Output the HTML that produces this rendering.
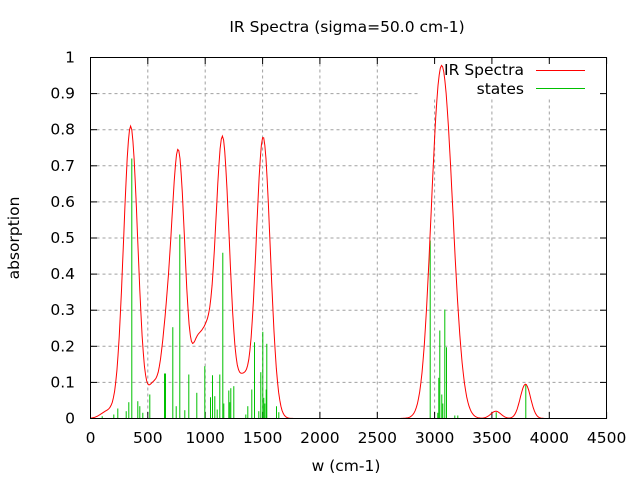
<!DOCTYPE html>
<html><head><meta charset="utf-8"><style>
html,body{margin:0;padding:0;background:#fff}
svg{display:block}
text{font-family:"DejaVu Sans","Liberation Sans",sans-serif;font-size:15.5px;fill:#000}
</style></head><body>
<svg id="s" width="640" height="480" viewBox="0 0 640 480" xmlns="http://www.w3.org/2000/svg">
<g id="grid" stroke="#a0a0a0" stroke-width="1" stroke-dasharray="3,3" fill="none"></g>
<rect x="418" y="60" width="182" height="38" fill="#fff"/>
<g id="ticks" stroke="#000" stroke-width="1"></g>
<g id="sticks" stroke="#00c000" stroke-width="1"></g>
<path id="curve" fill="none" stroke="#ff0000" stroke-width="1"/>
<rect x="90.5" y="57.5" width="516" height="361" fill="none" stroke="#000" stroke-width="1"/>
<g id="labels"></g>
<text x="347" y="32" text-anchor="middle">IR Spectra (sigma=50.0 cm-1)</text>
<text x="346" y="471" text-anchor="middle">w (cm-1)</text>
<text transform="translate(19,238) rotate(-90)" text-anchor="middle">absorption</text>
<text x="524" y="75" text-anchor="end">IR Spectra</text>
<line x1="536" y1="70.5" x2="585" y2="70.5" stroke="#ff0000"/>
<text x="524" y="94" text-anchor="end">states</text>
<line x1="536" y1="88.5" x2="585" y2="88.5" stroke="#00c000"/>
</svg>
<script>
var NS="http://www.w3.org/2000/svg";
function X(w){return 90.5+w/500*57.35;}
function Y(v){return 418.5-v*361;}
function el(p,t,a,txt){var e=document.createElementNS(NS,t);for(var k in a)e.setAttribute(k,a[k]);if(txt!=null)e.textContent=txt;document.getElementById(p).appendChild(e);}
for(var i=0;i<=9;i++){var w=i*500,x=X(w).toFixed(1);
 if(i>0&&i<9) el("grid","line",{x1:x,y1:57.5,x2:x,y2:418.5});
 el("ticks","line",{x1:x,y1:418.5,x2:x,y2:412});el("ticks","line",{x1:x,y1:57.5,x2:x,y2:64});
 el("labels","text",{x:x,y:443,"text-anchor":"middle"},String(w));}
for(var i=0;i<=10;i++){var v=i/10,y=Y(v).toFixed(1);
 if(i>0&&i<10) el("grid","line",{x1:90.5,y1:y,x2:606.5,y2:y});
 el("ticks","line",{x1:90.5,y1:y,x2:97,y2:y});el("ticks","line",{x1:606.5,y1:y,x2:600,y2:y});
 el("labels","text",{x:75,y:(Y(v)+5).toFixed(1),"text-anchor":"end"},i==10?"1":(i==0?"0":v.toFixed(1)));}
var s1=[[35,950],[70,945],[82,927],[107,935],[115,908],[124,177],[142,905],[148,920],[157,940],[178,885],[222,822],[225,822],[247,683],[257,920],[268,405],[283,932],[295,825],[319,880],[343,800],[360,893],[366,827],[373,890],[380,930],[388,825],[397,460],[400,912],[415,873],[418,908],[421,866],[430,860],[466,945],[472,920],[484,870],[492,728],[505,935],[511,818],[517,697],[520,895],[523,912],[527,870],[529,733],[558,920],[565,938]];
s1.forEach(function(p){var x=90+p[0]/3+0.5;var h=(957-p[1])/3;el("sticks","line",{x1:x.toFixed(1),y1:418.5,x2:x.toFixed(1),y2:(418.5-h).toFixed(1)});});
var s2=[[89,573],[112,1090],[115,985],[118,843],[124,1035],[127,1062],[133,780],[138,893],[163,1098],[172,1098],[287,1088],[376,1005]];
s2.forEach(function(p){var x=400+p[0]/3+0.5;var h=(1107-p[1])/3;el("sticks","line",{x1:x.toFixed(1),y1:418.5,x2:x.toFixed(1),y2:(418.5-h).toFixed(1)});});
var G=[[150,0.02,60],[350,0.81,62],[545,0.085,45],[650,0.16,45],[765,0.74,60],[920,0.14,40],[1000,0.2,50],[1150,0.78,62],[1330,0.1,50],[1505,0.78,62],[3000,0.15,60],[3075,0.9,88],[3534,0.02,45],[3792,0.095,45]];
var d="";for(var px=0;px<=450;px++){var w=px*4500/450;var v=0;G.forEach(function(g){v+=g[1]*Math.exp(-(w-g[0])*(w-g[0])/(2*g[2]*g[2]));});
 if(w>4050)v=0;d+=(d?"L":"M")+X(w).toFixed(1)+","+Y(Math.min(v,1)).toFixed(1);}
document.getElementById("curve").setAttribute("d",d);
</script>
</body></html>
